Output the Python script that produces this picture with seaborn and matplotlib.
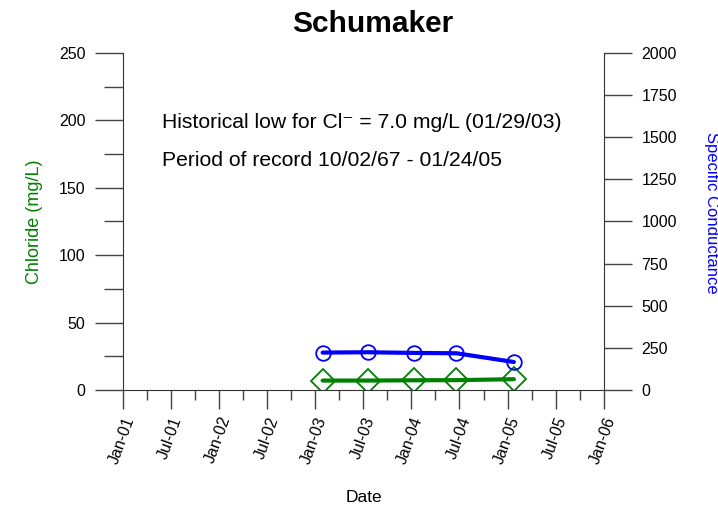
import pandas as pd
import seaborn as sns
import matplotlib.pyplot as plt
import matplotlib.dates as mdates
from matplotlib.ticker import MultipleLocator

# Sample data
dates = ["2003-01-29", "2003-07-20", "2004-01-12", "2004-06-20", "2005-01-24"]
chloride = [7.0, 7.0, 7.2, 7.3, 8.0]
conductance = [222, 224, 220, 218, 166]

df = pd.DataFrame({"Date": pd.to_datetime(dates),
                   "Chloride": chloride,
                   "Conductance": conductance})

sns.set_style("ticks")
plt.rcParams["font.family"] = ["Liberation Sans", "DejaVu Sans"]
plt.rcParams["text.color"] = "black"
plt.rcParams["axes.labelcolor"] = "black"
plt.rcParams["xtick.color"] = "black"
plt.rcParams["ytick.color"] = "black"

fig = plt.figure(figsize=(7.18, 5.16), dpi=100)
ax = fig.add_axes([0.1713, 0.2442, 0.6699, 0.6531])
ax2 = ax.twinx()

sns.lineplot(data=df, x="Date", y="Chloride", ax=ax, color="green", linewidth=3,
             marker="D", markersize=12, markerfacecolor="none",
             markeredgecolor="green", markeredgewidth=1.3)
sns.lineplot(data=df, x="Date", y="Conductance", ax=ax2, color="blue", linewidth=3,
             marker="o", markersize=10.5, markerfacecolor="none",
             markeredgecolor="blue", markeredgewidth=1.3)

ax.set_xlim(pd.Timestamp("2001-01-01"), pd.Timestamp("2006-01-01"))
ax.set_ylim(0, 250)
ax2.set_ylim(0, 2000)

ax.xaxis.set_major_locator(mdates.MonthLocator(bymonth=[1, 7]))
ax.xaxis.set_minor_locator(mdates.MonthLocator(bymonth=[4, 10]))
ax.xaxis.set_major_formatter(mdates.DateFormatter("%b-%y"))
ax.yaxis.set_major_locator(MultipleLocator(50))
ax.yaxis.set_minor_locator(MultipleLocator(25))
ax2.yaxis.set_major_locator(MultipleLocator(250))

for a in (ax, ax2):
    a.spines["top"].set_visible(False)
    a.grid(False)
ax2.spines["bottom"].set_visible(False)
ax2.spines["left"].set_visible(False)
ax.spines["right"].set_visible(False)
for s in ("left", "bottom"):
    ax.spines[s].set_color("#333333")
ax2.spines["right"].set_color("#333333")

tick_col = "#444444"
ax.tick_params(axis="y", which="major", length=20, width=1, color=tick_col,
               labelsize=11.5, pad=7)
ax.tick_params(axis="y", which="minor", length=13.7, width=1, color=tick_col)
ax.tick_params(axis="x", which="major", length=13.7, width=1, color=tick_col,
               labelsize=11.5, pad=4)
ax.tick_params(axis="x", which="minor", length=7, width=1, color=tick_col)
ax2.tick_params(axis="y", which="major", length=20, width=1, color=tick_col,
                labelsize=11.5, pad=7)
plt.setp(ax.get_xticklabels(), rotation=70, ha="right", rotation_mode="anchor")

ax.set_xlabel("Date", fontsize=12.5)
ax.xaxis.set_label_coords(0.5, -0.297)
ax.set_ylabel("Chloride (mg/L)", color="green", fontsize=13)
ax.yaxis.set_label_coords(-0.166, 0.5)
ax2.set_ylabel("")
fig.text(711 / 718, 1 - 132 / 516, "Specific Conductance", color="blue",
         fontsize=12, rotation=-90, ha="center", va="top")

ax.set_title("Schumaker", fontsize=21.5, fontweight="bold", x=0.52, pad=15)

ax.text(0.081, 0.795, "Historical low for Cl\u207b = 7.0 mg/L (01/29/03)",
        transform=ax.transAxes, fontsize=15.2, va="center")
ax.text(0.081, 0.68, "Period of record 10/02/67 - 01/24/05",
        transform=ax.transAxes, fontsize=15.2, va="center")

fig.savefig("out.png", dpi=100)
